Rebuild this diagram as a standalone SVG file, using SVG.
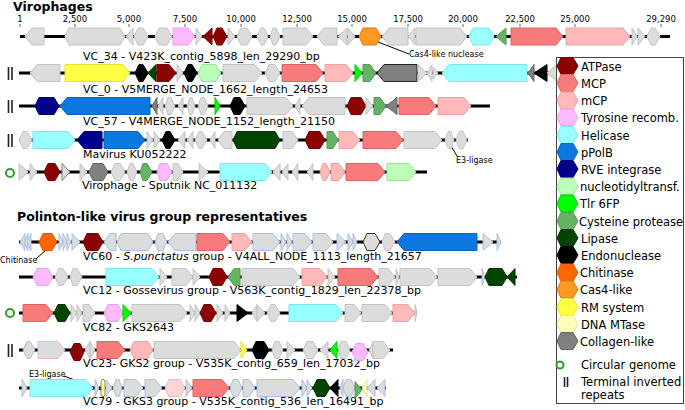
<svg xmlns="http://www.w3.org/2000/svg" width="685" height="410" viewBox="0 0 685 410">
<style>
text{font-family:"DejaVu Sans","Liberation Sans",sans-serif;fill:#000}
.ttl{font-size:12.5px;font-weight:bold}
.lab{font-size:11px}
.tk{font-size:8.5px;text-anchor:middle}
.sm{font-size:8px}
.leg{font-size:11.5px}
.bb{stroke:#000;stroke-width:3;fill:none}
.ld{stroke:#000;stroke-width:1;fill:none}
.tick{stroke:#666;stroke-width:1}
polygon{stroke-width:1;stroke-linejoin:round}
.g{fill:#dcdcdc;stroke:#c4c4c4}
.gb{fill:#dcdcdc;stroke:#a9c0e4}
.atp{fill:#8b0000;stroke:#760000}
.mcp{fill:#f77b7b;stroke:#e36262}
.mcpm{fill:#ffb9b9;stroke:#f0a2a2}
.mcpl{fill:#ffd6d6;stroke:#f0b5b5}
.tyr{fill:#ffbaff;stroke:#eba0eb}
.hel{fill:#99ffff;stroke:#80e4ee}
.pol{fill:#0a78dc;stroke:#0a66c2}
.rve{fill:#00008c;stroke:#000070}
.nuc{fill:#bbffbb;stroke:#9be49b}
.tlr{fill:#00ff00;stroke:#00cc00}
.cys{fill:#66b366;stroke:#539a53}
.lip{fill:#004400;stroke:#003300}
.endo{fill:#000;stroke:#000}
.chi{fill:#ff6600;stroke:#e65500}
.cas{fill:#ff9922;stroke:#e07a10}
.rm{fill:#ffff44;stroke:#e3e335}
.mt{fill:#ffffbb;stroke:#e2e29a}
.col{fill:#808080;stroke:#666}
.tir{stroke:#222;stroke-width:1.6}
.circ{fill:#fff;stroke:#2e9e2e;stroke-width:2}
</style>
<rect width="685" height="410" fill="#fff"/>

<text class="ttl" x="13" y="11">Virophages</text>
<text class="ttl" x="17" y="221">Polinton-like virus group representatives</text>

<g id="scale">
<text class="tk" x="20" y="22">1</text>
<text class="tk" x="75" y="22">2,500</text>
<text class="tk" x="129" y="22">5,000</text>
<text class="tk" x="185" y="22">7,500</text>
<text class="tk" x="241" y="22">10,000</text>
<text class="tk" x="297" y="22">12,500</text>
<text class="tk" x="352" y="22">15,000</text>
<text class="tk" x="408" y="22">17,500</text>
<text class="tk" x="463" y="22">20,000</text>
<text class="tk" x="520" y="22">22,500</text>
<text class="tk" x="575" y="22">25,000</text>
<text class="tk" x="661" y="22">29,290</text>
<path class="tick" d="M20,24V27M75,24V27M129,24V27M185,24V27M241,24V27M297,24V27M352,24V27M408,24V27M463,24V27M520,24V27M575,24V27M661,24V27"/>
</g>

<g id="connectors">
<path class="ld" d="M378,42L409,54"/>
<path class="ld" d="M451,146L457,156"/>
<path class="ld" d="M47,249L36,259"/>
<path class="ld" d="M64,376L101,390"/>
</g>

<g id="VC_34">
<text class="lab" x="83" y="60">VC_34 - V423K_contig_5898_len_29290_bp</text>
<text class="sm" x="409" y="57">Cas4-like nuclease</text>
<g transform="translate(0,36.5)">
<path class="bb" d="M20,0H670"/>
<polygon class="g" points="44,-8.5 32,-8.5 25,0 32,8.5 44,8.5"/>
<polygon class="g" points="65,0 69,-8.5 120,-8.5 125,0 120,8.5 69,8.5"/>
<polygon class="g" points="133,-8.5 126,0 133,8.5"/>
<polygon class="g" points="134,0 138,-8.5 143,-8.5 148,0 143,8.5 138,8.5"/>
<polygon class="g" points="155,0 159,-8.5 167,-8.5 172,0 167,8.5 159,8.5"/>
<polygon class="tyr" points="173,-8.5 188,-8.5 195,0 188,8.5 173,8.5"/>
<polygon class="g" points="196,-8.5 202,0 196,8.5"/>
<polygon class="atp" points="212,-8.5 203,0 212,8.5"/>
<polygon class="atp" points="213,0 217,-8.5 222,-8.5 227,0 222,8.5 217,8.5"/>
<polygon class="g" points="228,-8.5 235,0 228,8.5"/>
<polygon class="g" points="237,0 241,-8.5 247,-8.5 252,0 247,8.5 241,8.5"/>
<polygon class="g" points="257,0 261,-8.5 264,-8.5 268,0 264,8.5 261,8.5"/>
<polygon class="g" points="270,0 273,-8.5 276,-8.5 280,0 276,8.5 273,8.5"/>
<polygon class="g" points="283,-8.5 306,-8.5 313,0 306,8.5 283,8.5"/>
<polygon class="g" points="337,-8.5 324,-8.5 317,0 324,8.5 337,8.5"/>
<polygon class="g" points="347,-8.5 338,0 347,8.5"/>
<polygon class="g" points="348,-8.5 355,0 348,8.5"/>
<polygon class="cas" points="359,0 363,-8.5 376,-8.5 381,0 376,8.5 363,8.5"/>
<polygon class="g" points="408,-8.5 389,-8.5 382,0 389,8.5 408,8.5"/>
<polygon class="g" points="415,-8.5 408,0 415,8.5"/>
<polygon class="g" points="416,-8.5 460,-8.5 467,0 460,8.5 416,8.5"/>
<polygon class="hel" points="469,0 473,-8.5 489,-8.5 494,0 489,8.5 473,8.5"/>
<polygon class="cys" points="506,-8.5 496,0 506,8.5"/>
<polygon class="mcp" points="511,-8.5 556,-8.5 563,0 556,8.5 511,8.5"/>
<polygon class="mcpm" points="566,-8.5 623,-8.5 630,0 623,8.5 566,8.5"/>
<polygon class="g" points="632,-8.5 637,0 632,8.5"/>
<polygon class="g" points="638,-8.5 645,0 638,8.5"/>
<polygon class="g" points="647,0 651,-8.5 655,-8.5 660,0 655,8.5 651,8.5"/>
</g>
</g>

<g id="VC_0">
<path class="tir" d="M8.5,67V80M12,67V80"/>
<text class="lab" x="83" y="93">VC_0 - V5MERGE_NODE_1662_length_24653</text>
<g transform="translate(0,73)">
<path class="bb" d="M19,0H556"/>
<polygon class="g" points="60,-8.5 37,-8.5 30,0 37,8.5 60,8.5"/>
<polygon class="rm" points="65,-8.5 123,-8.5 130,0 123,8.5 65,8.5"/>
<polygon class="endo" points="135,0 139,-8.5 143,-8.5 148,0 143,8.5 139,8.5"/>
<polygon class="lip" points="156,-8.5 148,0 156,8.5"/>
<polygon class="atp" points="157,-8.5 169,-8.5 176,0 169,8.5 157,8.5"/>
<polygon class="g" points="177,-8.5 183,0 177,8.5"/>
<polygon class="endo" points="184,0 188,-8.5 192,-8.5 197,0 192,8.5 188,8.5"/>
<polygon class="nuc" points="198,0 202,-8.5 216,-8.5 221,0 216,8.5 202,8.5"/>
<polygon class="g" points="223,-8.5 255,-8.5 262,0 255,8.5 223,8.5"/>
<polygon class="g" points="265,0 269,-8.5 275,-8.5 280,0 275,8.5 269,8.5"/>
<polygon class="mcp" points="282,-8.5 316,-8.5 323,0 316,8.5 282,8.5"/>
<polygon class="mcpm" points="325,-8.5 346,-8.5 353,0 346,8.5 325,8.5"/>
<polygon class="tlr" points="355,-8.5 362,0 355,8.5"/>
<polygon class="cys" points="363,-8.5 370,-8.5 376,0 370,8.5 363,8.5"/>
<polygon class="col" style="stroke:#222" points="417,-8.5 384,-8.5 377,0 384,8.5 417,8.5"/>
<polygon class="g" points="418,-8.5 427,0 418,8.5"/>
<polygon class="g" points="432,-8.5 427,0 432,8.5"/>
<polygon class="g" points="433,-6 438,0 433,6"/>
<polygon class="hel" points="527,-8.5 449,-8.5 442,0 449,8.5 527,8.5"/>
<polygon class="col" points="534,-8.5 528,0 534,8.5"/>
<polygon class="endo" points="547,-8.5 534,0 547,8.5"/>
<polygon class="g" points="557,-8.5 547,0 557,8.5"/>
</g>
</g>

<g id="VC_57">
<path class="tir" d="M8.5,100V113M12,100V113"/>
<text class="lab" x="83" y="125">VC_57 - V4MERGE_NODE_1152_length_21150</text>
<g transform="translate(0,106)">
<path class="bb" d="M19,0H490"/>
<polygon class="rve" points="35,0 39,-8.5 54,-8.5 59,0 54,8.5 39,8.5"/>
<polygon class="pol" points="150,-8.5 67,-8.5 60,0 67,8.5 150,8.5"/>
<polygon class="col" points="157,-8.5 152,0 157,8.5"/>
<polygon class="g" points="163,-8.5 158,0 163,8.5"/>
<polygon class="g" points="165,0 168,-8.5 171,-8.5 175,0 171,8.5 168,8.5"/>
<polygon class="g" points="183,-8.5 178,0 183,8.5"/>
<polygon class="g" points="187,0 190,-8.5 192,-8.5 195,0 192,8.5 190,8.5"/>
<polygon class="g" points="198,0 201,-8.5 204,-8.5 208,0 204,8.5 201,8.5"/>
<polygon class="tlr" points="215,-8.5 220,0 215,8.5"/>
<polygon class="endo" points="230,0 234,-8.5 240,-8.5 245,0 240,8.5 234,8.5"/>
<polygon class="g" points="247,-8.5 286,-8.5 293,0 286,8.5 247,8.5"/>
<polygon class="g" points="300,-8.5 295,0 300,8.5"/>
<polygon class="g" points="345,-8.5 309,-8.5 302,0 309,8.5 345,8.5"/>
<polygon class="atp" points="347,0 351,-8.5 361,-8.5 366,0 361,8.5 351,8.5"/>
<polygon class="g" points="366,-8.5 373,0 366,8.5"/>
<polygon class="cys" points="374,-8.5 380,-8.5 386,0 380,8.5 374,8.5"/>
<polygon class="col" points="397,-8.5 386,0 397,8.5"/>
<polygon class="mcp" points="399,-8.5 429,-8.5 436,0 429,8.5 399,8.5"/>
<polygon class="mcpm" points="438,-8.5 464,-8.5 471,0 464,8.5 438,8.5"/>
</g>
</g>

<g id="Mavirus">
<path class="tir" d="M8.5,134V147M12,134V147"/>
<text class="lab" x="83" y="158">Mavirus KU052222</text>
<text class="sm" x="456" y="163">E3-ligase</text>
<g transform="translate(0,140)">
<path class="bb" d="M19,0H468"/>
<polygon class="g" points="19,0 23,-8.5 27,-8.5 32,0 27,8.5 23,8.5"/>
<polygon class="hel" points="33,-8.5 68,-8.5 75,0 68,8.5 33,8.5"/>
<polygon class="rve" points="102,-8.5 84,-8.5 77,0 84,8.5 102,8.5"/>
<polygon class="pol" points="104,-8.5 138,-8.5 145,0 138,8.5 104,8.5"/>
<polygon class="g" points="147,-8.5 153,0 147,8.5"/>
<polygon class="g" points="154,-8.5 160,0 154,8.5"/>
<polygon class="endo" points="162,0 166,-8.5 170,-8.5 175,0 170,8.5 166,8.5"/>
<polygon class="g" points="185,-8.5 178,0 185,8.5"/>
<polygon class="g" points="193,-8.5 187,0 193,8.5"/>
<polygon class="g" points="195,0 199,-8.5 202,-8.5 207,0 202,8.5 199,8.5"/>
<polygon class="g" points="215,-8.5 210,0 215,8.5"/>
<polygon class="g" points="232,-8.5 224,-8.5 218,0 224,8.5 232,8.5"/>
<polygon class="lip" points="233,0 237,-8.5 275,-8.5 280,0 275,8.5 237,8.5"/>
<polygon class="g" points="283,-8.5 292,-8.5 298,0 292,8.5 283,8.5"/>
<polygon class="atp" points="305,0 309,-8.5 320,-8.5 325,0 320,8.5 309,8.5"/>
<polygon class="cys" points="327,-8.5 333,-8.5 338,0 333,8.5 327,8.5"/>
<polygon class="mcpm" points="339,-8.5 353,-8.5 360,0 353,8.5 339,8.5"/>
<polygon class="mcp" points="363,-8.5 396,-8.5 403,0 396,8.5 363,8.5"/>
<polygon class="g" points="404,-8.5 435,-8.5 442,0 435,8.5 404,8.5"/>
<polygon class="g" points="445,0 448,-8.5 451,-8.5 454,0 451,8.5 448,8.5"/>
<polygon class="g" points="456,0 459,-8.5 463,-8.5 467,0 463,8.5 459,8.5"/>
</g>
</g>

<g id="Sputnik">
<circle class="circ" cx="10" cy="173" r="4"/>
<text class="lab" x="82" y="189">Virophage - Sputnik NC_011132</text>
<g transform="translate(0,172)">
<path class="bb" d="M19,0H427"/>
<polygon class="g" points="19,-8.5 28,0 19,8.5"/>
<polygon class="g" points="30,-8.5 37,0 30,8.5"/>
<polygon class="atp" points="44,0 48,-8.5 55,-8.5 60,0 55,8.5 48,8.5"/>
<polygon class="g" style="stroke:#777" points="62,-8.5 70,0 62,8.5"/>
<polygon class="g" points="80,-8.5 87,0 80,8.5"/>
<polygon class="col" points="89,0 93,-8.5 103,-8.5 108,0 103,8.5 93,8.5"/>
<polygon class="g" points="111,0 115,-8.5 120,-8.5 125,0 120,8.5 115,8.5"/>
<polygon class="g" points="127,0 130,-8.5 133,-8.5 137,0 133,8.5 130,8.5"/>
<polygon class="cys" points="140,0 143,-8.5 147,-8.5 152,0 147,8.5 143,8.5"/>
<polygon class="tyr" points="157,0 160,-8.5 167,-8.5 172,0 167,8.5 160,8.5"/>
<polygon class="g" points="173,-8.5 178,-8.5 183,0 178,8.5 173,8.5"/>
<polygon class="g" points="199,-8.5 208,0 199,8.5"/>
<polygon class="hel" points="220,-8.5 265,-8.5 272,0 265,8.5 220,8.5"/>
<polygon class="g" points="280,-8.5 273,0 280,8.5"/>
<polygon class="g" points="288,-8.5 282,0 288,8.5"/>
<polygon class="g" points="298,-8.5 292,0 298,8.5"/>
<polygon class="g" points="313,-8.5 307,0 313,8.5"/>
<polygon class="mcpm" points="320,0 323,-8.5 326,-8.5 330,0 326,8.5 323,8.5"/>
<polygon class="mcpm" points="331,-8.5 339,-8.5 345,0 339,8.5 331,8.5"/>
<polygon class="mcp" points="346,-8.5 378,-8.5 385,0 378,8.5 346,8.5"/>
<polygon class="nuc" points="387,-8.5 409,-8.5 416,0 409,8.5 387,8.5"/>
</g>
</g>

<g id="VC60">
<text class="lab" x="83" y="260">VC60 - <tspan font-style="italic">S.punctatus</tspan> group - V4ALL_NODE_1113_length_21657</text>
<text class="sm" x="0" y="263">Chitinase</text>
<g transform="translate(0,242)">
<path class="bb" d="M19,0H501"/>
<polygon class="gb" points="25,-8.5 20,0 25,8.5"/>
<polygon class="gb" points="28,-8.5 24,0 28,8.5"/>
<polygon class="gb" points="31,-8.5 27,0 31,8.5"/>
<polygon class="chi" points="39,0 43,-8.5 52,-8.5 57,0 52,8.5 43,8.5"/>
<polygon class="gb" points="59,-8.5 63,0 59,8.5"/>
<polygon class="gb" points="63,-8.5 67,0 63,8.5"/>
<polygon class="gb" points="67,-8.5 71,0 67,8.5"/>
<polygon class="gb" points="72,-8.5 80,0 72,8.5"/>
<polygon class="atp" points="83,0 87,-8.5 98,-8.5 103,0 98,8.5 87,8.5"/>
<polygon class="gb" points="116,-8.5 110,-8.5 104,0 110,8.5 116,8.5"/>
<polygon class="gb" points="117,0 121,-8.5 148,-8.5 153,0 148,8.5 121,8.5"/>
<polygon class="gb" points="155,0 158,-8.5 163,-8.5 167,0 163,8.5 158,8.5"/>
<polygon class="gb" points="196,-8.5 175,-8.5 168,0 175,8.5 196,8.5"/>
<polygon class="mcp" points="197,-8.5 223,-8.5 230,0 223,8.5 197,8.5"/>
<polygon class="mcpm" points="232,-8.5 245,-8.5 252,0 245,8.5 232,8.5"/>
<polygon class="gb" points="253,-8.5 273,-8.5 280,0 273,8.5 253,8.5"/>
<polygon class="gb" points="281,-8.5 286,0 281,8.5"/>
<polygon class="gb" points="287,-8.5 292,0 287,8.5"/>
<polygon class="gb" points="293,-8.5 305,-8.5 312,0 305,8.5 293,8.5"/>
<polygon class="gb" points="313,-8.5 326,-8.5 333,0 326,8.5 313,8.5"/>
<polygon class="gb" points="337,-8.5 346,0 337,8.5"/>
<polygon class="gb" points="348,-8.5 353,0 348,8.5"/>
<polygon class="gb" points="353,-8.5 357,0 353,8.5"/>
<polygon class="g" style="stroke:#333" points="363,0 367,-8.5 375,-8.5 380,0 375,8.5 367,8.5"/>
<polygon class="gb" style="stroke:#e8b8d8" points="382,0 385,-8.5 390,-8.5 395,0 390,8.5 385,8.5"/>
<polygon class="pol" points="477,-8.5 404,-8.5 397,0 404,8.5 477,8.5"/>
<polygon class="gb" points="483,-8.5 493,0 483,8.5"/>
<polygon class="gb" points="497,-8.5 501,0 497,8.5"/>
</g>
</g>

<g id="VC12">
<text class="lab" x="83" y="294">VC12 - Gossevirus group - V563K_contig_1829_len_22378_bp</text>
<g transform="translate(0,277)">
<path class="bb" d="M19,0H517"/>
<polygon class="tyr" points="33,0 37,-8.5 48,-8.5 53,0 48,8.5 37,8.5"/>
<polygon class="g" points="55,0 59,-8.5 63,-8.5 68,0 63,8.5 59,8.5"/>
<polygon class="g" points="70,0 73,-8.5 77,-8.5 82,0 77,8.5 73,8.5"/>
<polygon class="hel" points="106,-8.5 152,-8.5 159,0 152,8.5 106,8.5"/>
<polygon class="g" points="160,-8.5 167,0 160,8.5"/>
<polygon class="g" points="172,-8.5 186,-8.5 193,0 186,8.5 172,8.5"/>
<polygon class="g" points="193,-8.5 200,0 193,8.5"/>
<polygon class="atp" points="209,0 213,-8.5 222,-8.5 227,0 222,8.5 213,8.5"/>
<polygon class="cys" points="240,-8.5 234,-8.5 228,0 234,8.5 240,8.5"/>
<polygon class="g" points="242,-8.5 293,-8.5 300,0 293,8.5 242,8.5"/>
<polygon class="mcpm" points="302,-8.5 320,-8.5 327,0 320,8.5 302,8.5"/>
<polygon class="g" points="328,-8.5 335,0 328,8.5"/>
<polygon class="mcp" points="338,-8.5 371,-8.5 378,0 371,8.5 338,8.5"/>
<polygon class="g" points="379,-8.5 388,-8.5 395,0 388,8.5 379,8.5"/>
<polygon class="g" points="396,-8.5 399,0 396,8.5"/>
<polygon class="g" points="400,-8.5 430,-8.5 437,0 430,8.5 400,8.5"/>
<polygon class="g" points="438,-8.5 470,-8.5 477,0 470,8.5 438,8.5"/>
<polygon class="gb" points="482,-8.5 485,0 482,8.5"/>
<polygon class="lip" points="485,0 489,-8.5 502,-8.5 507,0 502,8.5 489,8.5"/>
<polygon class="lip" points="515,-8.5 507,0 515,8.5"/>
</g>
</g>

<g id="VC82">
<circle class="circ" cx="10" cy="313" r="4"/>
<text class="lab" x="83" y="331">VC82 - GKS2643</text>
<g transform="translate(0,313)">
<path class="bb" d="M19,0H417"/>
<polygon class="mcp" points="23,-8.5 46,-8.5 53,0 46,8.5 23,8.5"/>
<polygon class="lip" points="54,0 58,-8.5 65,-8.5 70,0 65,8.5 58,8.5"/>
<polygon class="g" points="71,-8.5 77,0 71,8.5"/>
<polygon class="g" points="77,-8.5 82,0 77,8.5"/>
<polygon class="g" points="83,-8.5 89,-8.5 95,0 89,8.5 83,8.5"/>
<polygon class="tyr" points="104,0 108,-8.5 118,-8.5 123,0 118,8.5 108,8.5"/>
<polygon class="tlr" points="123,-8.5 131,0 123,8.5"/>
<polygon class="g" points="132,-8.5 180,-8.5 187,0 180,8.5 132,8.5"/>
<polygon class="g" points="190,-8.5 195,0 190,8.5"/>
<polygon class="g" points="195,-8.5 200,0 195,8.5"/>
<polygon class="atp" points="200,0 204,-8.5 211,-8.5 216,0 211,8.5 204,8.5"/>
<polygon class="g" points="217,-8.5 223,0 217,8.5"/>
<polygon class="g" points="225,-8.5 230,0 225,8.5"/>
<polygon class="endo" points="237,-8.5 248,0 237,8.5"/>
<polygon class="g" points="257,-8.5 252,0 257,8.5"/>
<polygon class="g" points="257,-8.5 265,0 257,8.5"/>
<polygon class="g" points="267,0 271,-8.5 275,-8.5 280,0 275,8.5 271,8.5"/>
<polygon class="hel" points="289,-8.5 336,-8.5 343,0 336,8.5 289,8.5"/>
<polygon class="g" points="345,-8.5 354,-8.5 361,0 354,8.5 345,8.5"/>
<polygon class="g" points="362,-8.5 385,-8.5 392,0 385,8.5 362,8.5"/>
<polygon class="mcpm" points="393,-8.5 408,-8.5 415,0 408,8.5 393,8.5"/>
<polygon class="g" points="415,-8.5 417,0 415,8.5"/>
</g>
</g>

<g id="VC23">
<path class="tir" d="M8.5,344V357M12,344V357"/>
<text class="lab" x="83" y="367">VC23- GKS2 group - V535K_contig_659_len_17032_bp</text>
<g transform="translate(0,350)">
<path class="bb" d="M19,0H393"/>
<polygon class="gb" points="23,0 27,-8.5 30,-8.5 35,0 30,8.5 27,8.5"/>
<polygon class="g" style="stroke:#ebb8c8" points="38,-8.5 58,-8.5 65,0 58,8.5 38,8.5"/>
<polygon class="atp" points="70,2 74,-6.5 80,-6.5 84,2 80,10.5 74,10.5"/>
<polygon class="g" points="90,-8.5 85,0 90,8.5"/>
<polygon class="g" points="90,-8.5 95,0 90,8.5"/>
<polygon class="mcp" points="97,-8.5 118,-8.5 125,0 118,8.5 97,8.5"/>
<polygon class="mcpm" points="130,0 134,-8.5 148,-8.5 153,0 148,8.5 134,8.5"/>
<polygon class="g" points="154,-8.5 234,-8.5 241,0 234,8.5 154,8.5"/>
<polygon class="rm" points="241,-8.5 247,0 241,8.5"/>
<polygon class="endo" points="252,0 256,-8.5 264,-8.5 269,0 264,8.5 256,8.5"/>
<polygon class="g" points="272,0 275,-8.5 279,-8.5 283,0 279,8.5 275,8.5"/>
<polygon class="g" points="287,-8.5 295,0 287,8.5"/>
<polygon class="g" points="303,0 307,-8.5 313,-8.5 318,0 313,8.5 307,8.5"/>
<polygon class="g" points="328,-8.5 320,0 328,8.5"/>
<polygon class="tlr" points="337,-8.5 330,0 337,8.5"/>
<polygon class="g" points="338,0 341,-8.5 346,-8.5 350,0 346,8.5 341,8.5"/>
<polygon class="tyr" points="352,2 356,-6.5 363,-6.5 368,2 363,10.5 356,10.5"/>
<polygon class="g" points="373,-8.5 369,0 373,8.5"/>
<polygon class="g" points="373,-8.5 383,-8.5 390,0 383,8.5 373,8.5"/>
</g>
</g>

<g id="VC79">
<text class="lab" x="83" y="405">VC79 - GKS3 group - V535K_contig_536_len_16491_bp</text>
<text class="sm" x="29" y="377">E3-ligase</text>
<g transform="translate(0,388)">
<path class="bb" d="M19,0H386"/>
<polygon class="gb" points="22,-8.5 27,0 22,8.5"/>
<polygon class="hel" points="30,-8.5 86,-8.5 93,0 86,8.5 30,8.5"/>
<polygon class="gb" points="95,-8.5 99,0 95,8.5"/>
<polygon class="mt" style="stroke:#8a8a2a" points="101,-7 103,-9 105,-7 105,7 103,9 101,7"/>
<polygon class="gb" points="106,-8.5 112,0 106,8.5"/>
<polygon class="gb" points="113,0 116,-8.5 119,-8.5 122,0 119,8.5 116,8.5"/>
<polygon class="gb" points="124,-8.5 136,-8.5 143,0 136,8.5 124,8.5"/>
<polygon class="gb" points="145,-8.5 155,-8.5 162,0 155,8.5 145,8.5"/>
<polygon class="mcpl" points="165,0 169,-8.5 180,-8.5 185,0 180,8.5 169,8.5"/>
<polygon class="gb" points="186,-8.5 192,0 186,8.5"/>
<polygon class="mcp" points="193,-8.5 222,-8.5 229,0 222,8.5 193,8.5"/>
<polygon class="gb" points="230,0 233,-8.5 238,-8.5 242,0 238,8.5 233,8.5"/>
<polygon class="gb" points="243,-8.5 249,-8.5 255,0 249,8.5 243,8.5"/>
<polygon class="gb" points="257,-8.5 293,-8.5 300,0 293,8.5 257,8.5"/>
<polygon class="gb" points="302,-8.5 307,0 302,8.5"/>
<polygon class="gb" points="307,-8.5 312,0 307,8.5"/>
<polygon class="lip" points="313,0 317,-8.5 325,-8.5 330,0 325,8.5 317,8.5"/>
<polygon class="endo" points="338,-8.5 330,0 338,8.5"/>
<polygon class="gb" points="343,-8.5 340,0 343,8.5"/>
<polygon class="gb" points="343,0 346,-8.5 351,-8.5 355,0 351,8.5 346,8.5"/>
<polygon class="cys" points="355,-6.5 362,2 355,10.5"/>
<polygon class="mt" points="367,-8.5 362,0 367,8.5"/>
<polygon class="gb" points="375,-8.5 367,0 375,8.5"/>
<polygon class="gb" points="385,-8.5 377,0 385,8.5"/>
</g>
</g>

<g id="legend">
<rect x="556.5" y="57.5" width="127" height="346" fill="#fff" stroke="#444" stroke-width="1"/>
<g transform="translate(0,66)"><polygon class="atp" points="557,0 561,-8.5 573,-8.5 578,0 573,8.5 561,8.5"/><text class="leg" x="581" y="4.5">ATPase</text></g>
<g transform="translate(0,83)"><polygon class="mcp" points="557,0 561,-8.5 573,-8.5 578,0 573,8.5 561,8.5"/><text class="leg" x="581" y="4.5">MCP</text></g>
<g transform="translate(0,100.5)"><polygon class="mcpm" points="557,0 561,-8.5 573,-8.5 578,0 573,8.5 561,8.5"/><text class="leg" x="581" y="4.5">mCP</text></g>
<g transform="translate(0,117.5)"><polygon class="tyr" points="557,0 561,-8.5 573,-8.5 578,0 573,8.5 561,8.5"/><text class="leg" x="581" y="4.5">Tyrosine recomb.</text></g>
<g transform="translate(0,135)"><polygon class="hel" points="557,0 561,-8.5 573,-8.5 578,0 573,8.5 561,8.5"/><text class="leg" x="581" y="4.5">Helicase</text></g>
<g transform="translate(0,152)"><polygon class="pol" points="557,0 561,-8.5 573,-8.5 578,0 573,8.5 561,8.5"/><text class="leg" x="581" y="4.5">pPolB</text></g>
<g transform="translate(0,169)"><polygon class="rve" points="557,0 561,-8.5 573,-8.5 578,0 573,8.5 561,8.5"/><text class="leg" x="581" y="4.5">RVE integrase</text></g>
<g transform="translate(0,186.5)"><polygon class="nuc" points="557,0 561,-8.5 573,-8.5 578,0 573,8.5 561,8.5"/><text class="leg" x="580" y="4.5">nucleotidyltransf.</text></g>
<g transform="translate(0,203.5)"><polygon class="tlr" points="557,0 561,-8.5 573,-8.5 578,0 573,8.5 561,8.5"/><text class="leg" x="580" y="4.5">Tlr 6FP</text></g>
<g transform="translate(0,221)"><polygon class="cys" points="557,0 561,-8.5 573,-8.5 578,0 573,8.5 561,8.5"/><text class="leg" x="579" y="4.5">Cysteine protease</text></g>
<g transform="translate(0,238)"><polygon class="lip" points="557,0 561,-8.5 573,-8.5 578,0 573,8.5 561,8.5"/><text class="leg" x="581" y="4.5">Lipase</text></g>
<g transform="translate(0,255)"><polygon class="endo" points="557,0 561,-8.5 573,-8.5 578,0 573,8.5 561,8.5"/><text class="leg" x="581" y="4.5">Endonuclease</text></g>
<g transform="translate(0,272.5)"><polygon class="chi" points="557,0 561,-8.5 573,-8.5 578,0 573,8.5 561,8.5"/><text class="leg" x="580" y="4.5">Chitinase</text></g>
<g transform="translate(0,289.5)"><polygon class="cas" points="557,0 561,-8.5 573,-8.5 578,0 573,8.5 561,8.5"/><text class="leg" x="580" y="4.5">Cas4-like</text></g>
<g transform="translate(0,307)"><polygon class="rm" points="557,0 561,-8.5 573,-8.5 578,0 573,8.5 561,8.5"/><text class="leg" x="581" y="4.5">RM system</text></g>
<g transform="translate(0,324)"><polygon class="mt" points="557,0 561,-8.5 573,-8.5 578,0 573,8.5 561,8.5"/><text class="leg" x="581" y="4.5">DNA MTase</text></g>
<g transform="translate(0,341)"><polygon class="col" points="557,0 561,-8.5 573,-8.5 578,0 573,8.5 561,8.5"/><text class="leg" x="580" y="4.5">Collagen-like</text></g>
<circle class="circ" cx="560" cy="365" r="3.5"/>
<text class="leg" x="581" y="369">Circular genome</text>
<path class="tir" d="M564.5,377V387M567.5,377V387"/>
<text class="leg" x="581" y="385.5">Terminal inverted</text>
<text class="leg" x="581" y="399">repeats</text>
</g>
</svg>
